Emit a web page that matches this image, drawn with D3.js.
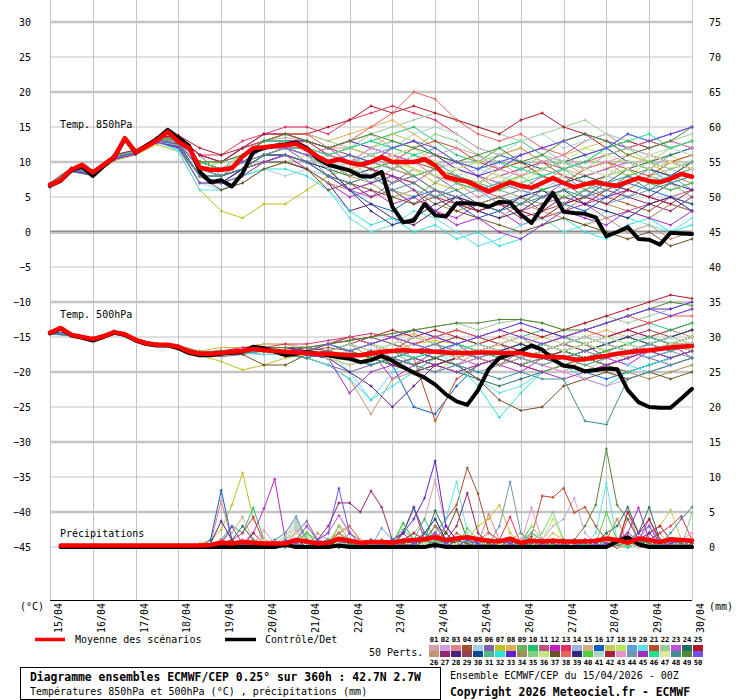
<!DOCTYPE html>
<html><head><meta charset="utf-8">
<script src="https://cdn.jsdelivr.net/npm/d3@7"></script>
<style>
body{margin:0;background:#fff;}
svg{display:block;font-family:"DejaVu Sans Mono",monospace;}
</style></head><body>
<svg id="c" width="740" height="700"></svg>
<script>
// ---------- DATA ----------
const days = ["15/04","16/04","17/04","18/04","19/04","20/04","21/04","22/04","23/04","24/04","25/04","26/04","27/04","28/04","29/04","30/04"];
const leftTicks = [30,25,20,15,10,5,0,-5,-10,-15,-20,-25,-30,-35,-40,-45];
const rightTicks = [75,70,65,60,55,50,45,40,35,30,25,20,15,10,5,0];
const memberColors = ["#d4a0a8","#d0a0e0","#e08088","#a05030","#a0d0e8","#8060b0","#c0c020","#e0b050","#70b060","#20c070","#c05080","#c020c0","#e03060","#a0b0e0","#d0b080","#1060c0","#c8c860","#b8e858","#60a0d8","#60e0e8","#c04828","#a0c898","#c050d8","#207060","#b01828","#c09870","#902870","#502080","#904050","#104890","#50b888","#30e0e0","#6020d0","#a09050","#80d080","#c0e880","#705028","#e86060","#302878","#50d040","#a8d8c8","#a82040","#e890d0","#7098b0","#a030c0","#20e090","#e0e8a0","#409090","#508838","#7050e8"];

// 6-hourly mean / control (0h..360h)
const mean850 = [6.7,7.4,8.9,9.6,8.5,9.6,10.7,13.4,11.4,12.2,13.1,14.3,12.9,12.0,9.2,8.9,8.9,9.1,10.8,12.0,12.1,12.3,12.4,12.6,11.8,10.8,10.0,10.4,9.9,9.6,10.0,10.7,10.0,10.0,10.0,10.4,9.5,7.9,7.5,7.2,6.5,5.8,6.5,7.1,6.6,6.3,7.0,7.7,7.0,6.4,6.8,7.1,6.8,6.6,7.2,7.7,7.3,7.1,7.6,8.3,7.9];
const ctrl850 = [6.6,7.3,8.8,9.4,8.0,9.4,10.6,13.3,11.3,12.3,13.3,14.6,13.5,12.3,8.6,7.1,7.4,6.5,8.4,11.5,12.0,12.3,12.5,12.8,12.0,10.5,9.6,9.2,8.8,8.0,7.9,8.6,3.6,1.4,1.6,4.0,2.4,2.2,4.1,4.1,4.0,3.6,4.3,4.2,2.5,1.3,3.5,5.6,2.9,2.7,2.6,2.1,-0.6,0.0,0.7,-1.0,-1.1,-1.8,-0.1,-0.2,-0.3];
const mean500 = [-14.4,-13.7,-14.7,-15.0,-15.3,-14.9,-14.3,-14.6,-15.4,-15.9,-16.1,-16.1,-16.4,-17.1,-17.4,-17.4,-17.3,-17.1,-17.0,-16.7,-16.9,-17.0,-17.1,-17.2,-17.3,-17.4,-17.4,-17.5,-17.6,-17.6,-17.4,-17.1,-17.0,-16.9,-17.0,-17.0,-17.1,-17.2,-17.3,-17.3,-17.2,-17.2,-17.3,-17.3,-17.3,-17.6,-17.8,-17.9,-17.9,-18.2,-18.2,-17.9,-17.7,-17.4,-17.2,-17.0,-16.9,-16.7,-16.5,-16.4,-16.3];
const ctrl500 = [-14.5,-13.8,-14.8,-15.1,-15.5,-15.0,-14.4,-14.7,-15.5,-16.0,-16.2,-16.2,-16.6,-17.3,-17.6,-17.6,-17.4,-17.2,-17.1,-16.4,-16.6,-17.1,-17.6,-17.4,-17.1,-17.4,-17.6,-17.9,-18.1,-18.6,-18.3,-17.7,-18.4,-19.3,-20.1,-20.8,-21.8,-23.2,-24.2,-24.7,-22.6,-19.6,-18.0,-17.5,-17.0,-16.2,-16.8,-18.2,-19.1,-19.3,-19.9,-19.7,-19.5,-19.6,-22.6,-24.3,-25.0,-25.1,-25.1,-23.8,-22.4];
// 6-hourly precipitation (6h..360h)
const meanPrecip = [0.2,0.2,0.2,0.2,0.2,0.2,0.2,0.2,0.2,0.2, 0.2,0.2,0.2,0.2,0.3,0.6,0.5,0.7,0.6,0.5, 0.5,0.5,1.0,0.8,0.5,0.6,1.2,0.9,0.6,0.7, 0.7,0.6,0.9,1.0,1.1,1.4,1.0,1.2,1.4,1.1, 0.9,0.8,1.2,0.6,0.9,0.8,0.9,0.8,0.8,0.8, 0.9,1.2,1.0,0.6,1.2,1.0,0.7,1.1,1.0,0.9];
const ctrlPrecip = [0,0,0,0,0,0,0,0,0,0, 0,0,0,0,0,0,0,0,0,0, 0,0.3,0,0,0,0,0.2,0,0,0, 0,0,0,0,0,0.3,0,0,0,0, 0,0,0,0,0,0,0,0,0,0, 0,0,0.8,1.4,0.4,0,0,0,0,0];

// 12-hourly members, 850 hPa (0h..360h)
const ens850 = [
[6.6,8.8,8.5,10.6,11.2,13,13.5,11,10,11,13,13.5,13,12,13,14,12,13,11,10,9,10,8,9,10,8,9,11,10,9,10],
[6.8,9,8.2,10.8,11.5,13.2,12.5,9,8,10,12,12,11,9,10,8,11,12,10,8,6,7,9,8,6,7,8,10,9,11,12],
[6.5,8.9,8.6,10.5,11.4,12.9,13,10,10,12,13,14,13,12,12,11,9,10,8,7,5,6,8,9,8,7,6,7,9,8,7],
[6.7,9.1,8.8,10.9,11.6,13.4,13.8,11,8,9,11,12,12,10,8,9,7,8,6,4,3,4,5,3,4,6,5,4,3,5,4],
[6.9,8.7,8.3,10.4,11.3,12.8,12,7,6,7,9,8,9,8,10,11,13,12,10,8,9,8,7,6,8,9,10,8,7,9,8],
[6.4,8.6,8.1,10.6,11.1,13,12.2,8,7,9,11,12,10,9,6,5,7,9,8,6,4,5,6,8,7,5,6,8,7,6,7],
[6.6,8.8,8,10.2,11,12.5,11.5,6,3,2,4,4,6,8,9,10,11,9,7,6,7,9,10,8,7,8,9,11,10,8,9],
[6.8,9,8.4,10.8,11.6,13.3,13.2,10,9,11,13,14,14,13,14,15,16,14,12,10,11,9,8,10,11,9,10,8,9,10,11],
[6.7,8.9,8.5,10.7,11.4,13.1,13,9,9,11,12,12,11,8,7,8,6,5,7,9,8,6,5,4,6,7,5,6,8,7,5],
[6.5,8.7,8.3,10.5,11.2,12.9,12.6,8,8,10,12,13,12,11,12,13,14,15,13,11,10,12,13,11,9,10,12,14,13,12,13],
[7,9.2,8.7,11,11.7,13.5,13.4,10,10,12,13,13,12,10,9,10,9,8,9,7,6,5,3,4,5,4,2,3,4,5,6],
[6.6,8.8,8.2,10.4,11.3,13,12.8,9,8,9,10,11,9,7,5,6,4,5,3,2,4,3,1,2,3,4,5,6,5,4,3],
[6.8,9,8.6,10.9,11.5,13.2,13.6,11,11,13,14,15,15,14,16,17,18,17,16,14,12,11,12,10,9,10,11,12,11,10,9],
[6.7,8.9,8.4,10.7,11.4,13.1,12.5,8,7,9,11,11,10,11,12,13,12,11,10,9,8,10,11,12,10,9,8,7,9,11,12],
[6.6,8.8,8.5,10.6,11.3,13,13.2,10,9,10,12,12,13,11,10,12,11,10,12,10,8,7,6,7,9,8,7,6,8,9,10],
[6.5,8.7,8.1,10.4,11.1,12.8,12,8,7,9,10,11,10,8,6,4,3,5,6,4,2,3,5,6,4,3,5,7,6,5,4],
[6.9,9.1,8.6,10.8,11.6,13.3,13,9,10,12,13,14,13,12,13,12,14,13,11,9,10,11,12,10,11,12,13,11,10,12,13],
[6.7,8.9,8.3,10.6,11.2,12.9,12.3,7,7,8,9,10,11,9,8,10,12,11,9,8,7,6,8,9,10,11,9,8,10,11,9],
[6.4,8.6,8.2,10.5,11.2,13,12.8,9,8,10,12,13,12,10,9,7,8,6,5,7,6,4,5,7,8,6,4,5,7,8,6],
[6.6,8.8,8.4,10.6,11.3,13,11.5,6,6,8,10,10,9,6,2,0,1,3,2,0,-2,-1,1,2,0,1,3,2,1,0,2],
[6.8,9,8.6,10.9,11.6,13.4,13.2,10,9,11,13,13,12,11,12,11,10,12,13,12,10,9,10,8,7,9,10,9,8,10,11],
[6.7,8.9,8.5,10.7,11.5,13.2,13,10,10,11,13,14,14,13,12,14,15,16,17,16,15,14,13,14,15,16,14,13,12,13,14],
[6.5,8.8,8.3,10.5,11.2,12.9,12.6,9,9,11,12,12,11,12,10,9,8,7,9,10,8,7,6,5,7,8,9,10,9,8,10],
[6.6,8.9,8.4,10.6,11.3,13,12.9,9,8,10,11,12,11,9,8,9,10,8,6,5,4,5,4,6,7,8,7,9,10,11,12],
[6.9,9.1,8.7,11,11.7,13.5,13.8,12,11,12,14,14,14,15,16,18,17,18,17,16,15,14,16,17,15,14,12,13,12,13,12],
[6.7,8.9,8.5,10.7,11.4,13.1,12.8,9,8,10,11,12,12,10,8,7,9,8,6,4,3,2,4,3,2,1,2,0,1,-1,0],
[6.6,8.8,8.3,10.6,11.3,13,12.4,8,8,9,11,11,10,8,7,5,6,4,6,5,3,4,2,3,5,4,6,5,4,3,5],
[6.5,8.7,8.2,10.4,11.2,12.9,12.2,8,7,9,10,10,9,7,3,4,2,1,3,5,4,3,5,6,4,5,7,6,5,7,6],
[6.8,9,8.6,10.8,11.5,13.2,13.3,10,9,11,12,13,13,12,11,10,11,10,9,8,7,8,9,10,8,7,8,9,11,10,9],
[6.7,8.9,8.4,10.7,11.4,13.1,13,9,9,11,12,12,12,11,10,11,12,13,11,10,9,11,10,9,10,11,12,10,9,8,10],
[6.6,8.8,8.5,10.6,11.4,13,12.7,9,9,10,12,12,11,10,11,10,9,11,10,8,7,6,7,8,9,7,6,8,9,7,8],
[6.5,8.7,8.2,10.5,11.2,12.8,11.8,7,7,8,9,9,8,6,3,1,2,0,1,-1,0,-2,-1,1,2,0,-1,1,2,0,1],
[6.8,9,8.6,10.8,11.5,13.3,13.4,11,10,12,13,13,13,12,13,12,11,10,11,9,8,9,11,12,13,14,13,12,13,14,15],
[6.7,8.9,8.4,10.7,11.4,13.1,12.6,8,8,9,10,10,9,7,6,7,5,6,4,3,4,5,3,2,3,5,4,3,2,4,3],
[6.9,9.1,8.7,10.9,11.6,13.3,13.1,10,10,11,13,13,12,11,10,12,13,12,14,13,11,10,9,11,10,9,11,12,10,9,10],
[6.6,8.8,8.3,10.6,11.3,13,12.9,9,9,10,12,12,12,11,12,11,10,9,8,9,10,8,7,9,10,12,11,10,9,10,8],
[6.5,8.7,8.2,10.5,11.2,12.9,12.5,8,6,7,9,10,9,6,7,6,5,4,5,3,2,1,0,1,2,1,0,-1,0,-2,-1],
[6.8,9,8.6,10.8,11.6,13.3,13.5,11,10,12,13,14,14,12,13,15,17,20,19,16,14,13,14,12,11,13,14,12,13,12,13],
[6.6,8.8,8.4,10.6,11.3,13,12.6,8,8,9,11,11,10,9,6,3,1,2,4,5,3,2,3,5,6,4,3,2,4,5,3],
[6.7,8.9,8.5,10.7,11.4,13.1,13,10,9,11,12,13,12,10,11,9,10,8,9,7,6,7,8,6,5,6,8,9,7,6,7],
[6.5,8.8,8.3,10.5,11.2,12.9,12.4,8,8,10,12,12,11,9,10,11,12,14,15,14,12,11,13,14,12,13,14,12,11,12,11],
[6.9,9.1,8.7,11,11.7,13.4,13.4,11,10,12,14,14,13,11,10,9,8,7,5,4,3,4,3,2,4,5,4,6,5,4,6],
[6.7,8.9,8.5,10.7,11.5,13.2,13,9,9,11,12,13,12,11,10,12,11,10,11,12,11,9,8,10,11,9,10,11,12,13,12],
[6.6,8.8,8.4,10.6,11.3,13,12.7,9,8,10,11,12,12,10,9,8,7,8,6,5,6,7,6,5,4,6,7,5,6,8,9],
[6.5,8.7,8.2,10.4,11.1,12.8,12.1,7,7,8,10,11,10,8,6,7,8,6,3,1,2,0,-1,1,3,2,1,3,2,1,3],
[6.8,9,8.6,10.8,11.6,13.4,13.3,10,9,11,13,13,12,11,12,13,12,11,12,10,9,10,9,8,9,10,12,13,14,12,13],
[6.7,8.9,8.4,10.7,11.4,13.1,12.8,9,9,11,12,12,11,10,9,10,11,12,10,9,7,8,6,7,8,9,8,9,11,10,9],
[6.6,8.8,8.3,10.6,11.3,13,12.5,8,8,9,11,11,10,8,7,8,6,7,5,6,4,3,4,5,6,5,7,8,6,7,8],
[6.7,8.9,8.5,10.7,11.4,13.1,13.2,10,10,11,13,14,13,12,13,14,13,12,11,10,11,12,10,11,13,14,13,11,12,13,15],
[6.6,8.8,8.4,10.6,11.3,13,12.8,9,9,10,12,12,11,10,11,10,12,13,12,10,9,10,11,12,13,11,12,14,13,14,15]
];

// 12-hourly members, 500 hPa (0h..360h)
const ens500 = [
[-14.3,-14.6,-15.2,-14.2,-15.3,-16,-16.2,-17,-17,-16.5,-16,-16,-16.5,-17,-16,-17,-18,-17,-16,-17,-18,-17,-16,-17,-18,-17,-16,-15,-16,-15,-14],
[-14.5,-14.8,-15.4,-14.4,-15.5,-16.2,-16.5,-17.5,-17.5,-17,-17,-17.5,-18,-17,-18,-19,-18,-17,-18,-16,-17,-18,-19,-18,-17,-16,-17,-18,-16,-15,-16],
[-14.4,-14.7,-15.3,-14.3,-15.4,-16.1,-16.4,-17.2,-17,-16.8,-16.5,-17,-17,-16,-15,-16,-15,-17,-18,-19,-17,-16,-18,-19,-20,-18,-17,-16,-15,-14,-15],
[-14.2,-14.5,-15.1,-14.2,-15.2,-16,-16.3,-17.3,-17.2,-17,-17,-17,-17.5,-18,-17,-16,-17,-15,-16,-17,-18,-19,-17,-16,-15,-16,-17,-16,-15,-14,-13],
[-14.6,-14.9,-15.4,-14.5,-15.6,-16.3,-16.6,-17.8,-17.5,-17.2,-17.5,-17,-16.5,-17,-18,-17,-16,-18,-19,-18,-17,-16,-17,-18,-19,-20,-18,-17,-18,-17,-16],
[-14.4,-14.7,-15.3,-14.3,-15.4,-16.1,-16.5,-17.5,-17.8,-17.5,-17,-17.5,-18,-19,-20,-19,-18,-17,-16,-18,-17,-16,-15,-17,-18,-17,-16,-17,-18,-19,-18],
[-14.3,-14.6,-15.2,-14.3,-15.3,-16,-16.4,-17.6,-18.5,-19.7,-19,-18,-17.5,-17,-17.5,-18,-17,-16,-15.5,-16,-17,-18,-17,-16,-17,-18,-19,-18,-17,-16,-15],
[-14.4,-14.7,-15.3,-14.3,-15.4,-16.1,-16.3,-17,-16.5,-16.5,-16,-16,-17,-16,-17,-16,-15,-14.5,-16,-17,-16,-15,-16,-17,-16,-15,-14,-15,-16,-15,-14],
[-14.5,-14.8,-15.4,-14.4,-15.5,-16.2,-16.6,-17.5,-17.2,-17.3,-17.5,-17.5,-18,-17,-16,-18,-19,-20,-18,-17,-16,-17,-18,-19,-18,-17,-16,-17,-18,-17,-16],
[-14.3,-14.6,-15.2,-14.2,-15.3,-16,-16.3,-17.2,-17,-16.8,-16.5,-16.5,-17,-16,-15,-16,-15,-14,-15,-14,-15,-16,-15,-14,-15,-16,-15,-14,-13,-14,-13],
[-14.4,-14.7,-15.3,-14.3,-15.4,-16.1,-16.4,-17.4,-17.3,-17,-17,-17,-17.5,-18,-19,-18,-17,-16,-17,-18,-19,-18,-17,-18,-19,-20,-19,-18,-17,-18,-17],
[-14.4,-14.7,-15.3,-14.3,-15.4,-16.1,-16.4,-17.3,-17.2,-17.2,-17,-17,-17.5,-17,-18,-17,-21,-19,-17,-16,-18,-19,-20,-18,-17,-16,-18,-19,-17,-16,-18],
[-14.3,-14.6,-15.2,-14.2,-15.3,-16,-16.3,-17.2,-17,-16.5,-16.5,-16,-16,-15.5,-15,-14.5,-15,-16,-15,-14,-15,-16,-17,-16,-15,-14,-15,-14,-13,-12,-11],
[-14.5,-14.8,-15.4,-14.4,-15.5,-16.2,-16.5,-17.5,-17.4,-17.2,-17,-17.5,-17,-18,-17,-16,-17,-18,-17,-18,-17,-16,-17,-16,-17,-18,-17,-16,-17,-16,-15],
[-14.4,-14.7,-15.3,-14.3,-15.4,-16.1,-16.4,-17.4,-17.3,-17,-17,-17.5,-18,-17,-16,-17,-18,-19,-20,-18,-17,-18,-19,-17,-16,-17,-18,-17,-16,-17,-16],
[-14.4,-14.7,-15.3,-14.3,-15.4,-16.1,-16.4,-17.4,-17.3,-17,-17,-17.5,-17.5,-18,-17,-18,-19,-25,-26,-22,-19,-18,-17,-18,-19,-20,-21,-20,-19,-18,-17],
[-14.3,-14.6,-15.2,-14.2,-15.3,-16,-16.3,-17.2,-17,-16.8,-17,-17,-16.5,-17,-16,-17,-16,-15,-16,-15,-16,-17,-16,-15,-16,-17,-16,-15,-16,-15,-14],
[-14.5,-14.8,-15.4,-14.4,-15.5,-16.2,-16.6,-17.7,-17.6,-17.3,-17,-17.5,-18,-17,-18,-17,-16,-17,-18,-17,-16,-17,-18,-19,-18,-17,-16,-17,-16,-15,-16],
[-14.4,-14.7,-15.3,-14.3,-15.4,-16.1,-16.4,-17.4,-17.3,-17,-16.8,-17,-17.2,-17.5,-18,-19,-18,-17,-18,-19,-20,-19,-18,-17,-18,-19,-18,-17,-18,-17,-16],
[-14.4,-14.7,-15.3,-14.3,-15.4,-16.1,-16.4,-17.5,-17.3,-17.2,-17.5,-17.5,-18,-17,-20,-24,-20,-18,-17,-19,-21,-23,-22,-20,-19,-18,-17,-19,-20,-19,-18],
[-14.3,-14.6,-15.2,-14.2,-15.3,-16,-16.4,-17.3,-17.1,-16.9,-17,-17,-17,-16.5,-17,-16,-17,-18,-27,-21,-19,-18,-19,-20,-19,-18,-17,-18,-17,-16,-16],
[-14.4,-14.7,-15.3,-14.3,-15.4,-16.1,-16.4,-17.3,-17.2,-17,-16.8,-16.5,-16.5,-16,-15.5,-15,-14.5,-14,-13.5,-13,-14,-13,-12.5,-13,-14,-13,-12,-13,-12,-11,-10],
[-14.5,-14.8,-15.4,-14.4,-15.5,-16.2,-16.5,-17.5,-17.4,-17.2,-17,-17.5,-17,-16,-17,-18,-17,-16,-15,-16,-17,-16,-15,-16,-17,-16,-15,-14,-15,-16,-15],
[-14.4,-14.7,-15.3,-14.3,-15.4,-16.1,-16.4,-17.4,-17.3,-17.1,-17,-17,-17.5,-18,-17,-16,-17,-18,-19,-20,-21,-22,-21,-20,-19,-18,-19,-20,-19,-18,-17],
[-14.3,-14.6,-15.2,-14.2,-15.3,-16,-16.3,-17.2,-17,-16.8,-16.5,-16.5,-17,-16,-15.5,-15,-14,-15,-14,-15,-16,-15,-14,-15,-14,-13,-12,-11,-10,-9,-9.5],
[-14.4,-14.7,-15.3,-14.3,-15.4,-16.1,-16.4,-17.4,-17.5,-17.3,-17,-17.5,-18,-19,-21,-26,-21,-20,-18,-17,-18,-19,-18,-17,-18,-19,-20,-21,-20,-19,-18],
[-14.5,-14.8,-15.4,-14.4,-15.5,-16.2,-16.5,-17.5,-17.3,-17,-17,-17.5,-18,-17,-18,-17,-18,-19,-18,-17,-18,-17,-16,-17,-16,-15,-16,-17,-16,-17,-16],
[-14.4,-14.7,-15.3,-14.3,-15.4,-16.1,-16.4,-17.4,-17.3,-17,-17,-17.5,-17,-18,-20,-22,-25,-22,-19,-18,-17,-18,-19,-18,-17,-18,-19,-18,-17,-16,-17],
[-14.3,-14.6,-15.2,-14.2,-15.3,-16,-16.3,-17.2,-17,-16.8,-17,-17,-16.5,-17,-16,-15,-16,-17,-16,-15,-16,-17,-18,-17,-16,-17,-16,-15,-14,-15,-14],
[-14.4,-14.7,-15.3,-14.3,-15.4,-16.1,-16.4,-17.4,-17.3,-17.1,-17,-17,-17.5,-17,-18,-19,-18,-17,-18,-19,-18,-17,-16,-17,-18,-17,-16,-15,-16,-15,-14],
[-14.4,-14.7,-15.3,-14.3,-15.4,-16.1,-16.4,-17.4,-17.2,-17,-17,-17,-17,-18,-17,-18,-17,-19,-18,-17,-16,-17,-18,-17,-18,-19,-18,-17,-16,-17,-16],
[-14.5,-14.8,-15.4,-14.4,-15.5,-16.2,-16.6,-17.7,-17.5,-17.2,-17,-17.5,-18,-19,-21,-24,-22,-20,-18,-19,-22,-26.5,-23,-20,-19,-21,-22,-20,-19,-18,-17],
[-14.3,-14.6,-15.2,-14.2,-15.3,-16,-16.3,-17.2,-17,-16.8,-16.5,-16.5,-17,-16,-15,-16,-15,-14,-15,-16,-15,-14,-13,-14,-15,-14,-13,-12,-11,-11,-10],
[-14.4,-14.7,-15.3,-14.3,-15.4,-16.1,-16.4,-17.4,-17.3,-17.2,-17,-17.5,-17.5,-18,-17,-18,-19,-18,-19,-20,-19,-18,-19,-20,-19,-18,-19,-20,-21,-20,-19],
[-14.4,-14.7,-15.3,-14.3,-15.4,-16.1,-16.4,-17.3,-17.1,-17,-16.8,-17,-17,-16,-17,-16,-17,-16,-17,-18,-17,-16,-17,-16,-17,-16,-17,-16,-15,-16,-15],
[-14.5,-14.8,-15.4,-14.4,-15.5,-16.2,-16.5,-17.6,-17.4,-17.2,-17,-17.5,-17,-18,-19,-18,-17,-18,-17,-16,-17,-18,-17,-16,-17,-16,-17,-18,-17,-16,-17],
[-14.4,-14.7,-15.3,-14.3,-15.4,-16.1,-16.4,-17.4,-17.5,-17.5,-19,-19,-17.5,-17,-18,-17,-18,-19,-18,-19,-21,-24,-25.5,-25,-22,-21,-20,-21,-20,-21,-20],
[-14.3,-14.6,-15.2,-14.2,-15.3,-16,-16.3,-17.2,-17,-16.8,-16.5,-16.5,-16.5,-16,-15,-16,-15,-16,-15,-14,-15,-14,-15,-16,-15,-14,-13,-12,-13,-12,-12],
[-14.4,-14.7,-15.3,-14.3,-15.4,-16.1,-16.5,-17.5,-17.4,-17.2,-17,-17,-17.5,-18,-17,-18,-19,-20,-19,-18,-17,-18,-17,-16,-17,-18,-17,-16,-17,-16,-15],
[-14.5,-14.8,-15.4,-14.4,-15.5,-16.2,-16.5,-17.5,-17.3,-17.1,-17,-17.5,-17,-16,-17,-18,-19,-18,-17,-16,-17,-18,-19,-18,-17,-18,-17,-16,-17,-18,-17],
[-14.4,-14.7,-15.3,-14.3,-15.4,-16.1,-16.4,-17.3,-17.2,-17,-17,-17,-17,-17,-16,-17,-16,-15,-16,-17,-16,-17,-18,-17,-16,-15,-16,-17,-16,-15,-16],
[-14.3,-14.6,-15.2,-14.2,-15.3,-16,-16.4,-17.4,-17.2,-17,-17,-17,-17.5,-17,-18,-17,-19,-20,-19,-18,-17,-16,-17,-18,-17,-16,-15,-14,-15,-16,-15],
[-14.4,-14.7,-15.3,-14.3,-15.4,-16.1,-16.4,-17.4,-17.3,-17,-17,-17.5,-17,-18,-17,-16,-18,-19,-20,-19,-18,-17,-18,-19,-20,-21,-22,-21,-20,-19,-18],
[-14.5,-14.8,-15.4,-14.4,-15.5,-16.2,-16.5,-17.5,-17.4,-17.2,-17,-17.5,-18,-17,-18,-19,-18,-17,-16,-17,-18,-17,-18,-19,-18,-17,-18,-17,-16,-17,-18],
[-14.4,-14.7,-15.3,-14.3,-15.4,-16.1,-16.4,-17.4,-17.3,-17.1,-17,-17,-17.5,-18,-23,-20,-19,-18,-19,-20,-19,-18,-19,-20,-21,-20,-19,-18,-17,-18,-17],
[-14.3,-14.6,-15.2,-14.2,-15.3,-16,-16.3,-17.2,-17,-16.8,-16.5,-17,-17,-16,-17,-16,-17,-18,-17,-16,-17,-18,-17,-16,-17,-16,-15,-16,-15,-16,-15],
[-14.4,-14.7,-15.3,-14.3,-15.4,-16.1,-16.5,-17.5,-17.4,-17.2,-17,-17.5,-17,-18,-17,-16,-17,-16,-17,-18,-17,-16,-15,-16,-17,-16,-15,-16,-17,-16,-15],
[-14.5,-14.8,-15.4,-14.4,-15.5,-16.2,-16.5,-17.5,-17.4,-17.3,-17,-17.5,-18,-17,-18,-19,-18,-19,-20,-19,-20,-21,-20,-21,-21,-27,-27.5,-21,-20,-19,-18],
[-14.4,-14.7,-15.3,-14.3,-15.4,-16.1,-16.3,-17.2,-17,-16.8,-16.5,-16.5,-16.5,-16,-15.5,-15,-14.5,-14,-13.5,-13,-13,-12.5,-12.5,-13,-14,-14,-13,-12,-11,-10,-10.5],
[-14.4,-14.7,-15.3,-14.3,-15.4,-16.1,-16.4,-17.4,-17.3,-17,-17,-17,-17,-16,-17,-16,-15,-16,-17,-16,-15,-14,-15,-16,-15,-14,-13,-12,-11,-12,-11]
];

// 6-hourly members, precipitation mm (6h..360h)
const ensPrecip = [
[0,0,0,0,0,0,0,0,0,0, 0,0,0,0.5,0,1,0,0.5,1,0, 0,1,3,1,0,0.5,2,1,0,0.5, 1,0,0.5,2,4,9.6,3,1,0.5,0, 0,1,0.5,0,1,0,0.5,1,0,0, 0.5,1,0,0,0.5,1,0,0.5,0,1],
[0,0,0,0,0,0,0,0,0,0, 0,0,0,0,0,0.5,1,0,0,0.5, 1,0,2.5,0.5,0,0,1,0,0.5,1, 0,0.5,1,0,0.5,2,1,0,0.5,0, 1,0,0.5,1,2,1,3,4,7,2, 0.5,0,1,0,0.5,0,1,0,0.5,0],
[0,0,0,0,0,0,0,0,0,0, 0,0,0,0,0.5,6.6,1,0,0.5,0, 0,0.5,0,1,0,0,0.5,1,0,0, 0.5,1,2,5.7,1,0,0.5,0,1,0.5, 4.7,1,0,0.5,0,1,0,0.5,0,0, 1,0,0.5,5,1,3,0.5,0,1,0],
[0,0,0,0,0,0,0,0,0,0, 0,0,0,0,0,0.5,0,0,0,0, 0.5,0,1,0,0.5,0,1,0,0,0.5, 0,1,0,0.5,1,2,4,6,11.3,7.6, 2,1,0,0.5,0,1,0,0.5,0,0, 0,0.5,0,1,0,0,0.5,0,1,0],
[0,0,0,0,0,0,0,0,0,0, 0,0,0,0,0,0,0.5,0,0,0, 0,0.5,1,0,0,1,0.5,0,1,0, 0,0.5,1,0,0.5,3,1,0.5,0,1, 0,0.5,1,2,1,0,0.5,1,0,0.5, 0,1,0,0.5,0,1,0,0.5,0,0],
[0,0,0,0,0,0,0,0,0,0, 0,0,0,0,0,1,0.5,0,0,1, 0.5,1,2,3.7,1,0,0.5,2,1,0, 0.5,1,0,0.5,1,2,1,0.5,0,1, 0.5,0,1,0,0.5,1,0,0.5,0,1, 0,0.5,0,1,0.5,0,1,0,0.5,0],
[0,0,0,0,0,0,0,0,0,0, 0,0,0,0.5,1,2.5,6,10.6,4,1, 0,0.5,1,0,0,0.5,1,0,0,0.5, 0,1,0,0.5,0,1,2,0.5,1,3, 4,6,2,0.5,0,1,0,0.5,1,0, 0.5,0,1,0,0.5,0,1,0,0.5,0],
[0,0,0,0,0,0,0,0,0,0, 0,0,0,0,0,0.5,0,0,0.5,0, 0,0,0.5,1,0.5,0,3,2,1,0, 1,0.5,0,1,0.5,2,1,0,0.5,0, 1,0.5,0,1,0,0.5,2,1,0,0.5, 0,1,4,0.5,0,1,2,0,0.5,0],
[0,0,0,0,0,0,0,0,0,0, 0,0,0,0,0,0,0.5,0,0,0, 0.5,0,1,2,0.5,0,1,0,0,0.5, 0,0.5,3.4,1,0,0.5,1,0,0.5,1, 0,0.5,1,0,1,0.5,0,1,0,0, 0.5,2,0,0.5,0,1,0,0.5,1,0],
[0,0,0,0,0,0,0,0,0,0, 0,0,0,0,0,1,3,2,5.6,1, 0,0.5,1,0,0.5,0,1,0.5,0,0, 0.5,0,1,0.5,2,1,0,0.5,1,0, 0.5,1,0,0.5,3,1,0,0.5,0,1, 0,0.5,1,0,0.5,0,0,1,0.5,0],
[0,0,0,0,0,0,0,0,0,0, 0,0,0,0,0,0.5,0,1,0,0.5, 1,0,0.5,0,1,0.5,0,1,0,0.5, 0,1,0,0.5,1,3,2,0.5,0,1, 0,0.5,1,0,0.5,1,0,0.5,0,0, 1,0,0.5,2,1,4,0.5,0,1,0.5],
[0,0,0,0,0,0,0,0,0,0, 0,0,0,0,0,0.5,0,0.5,2,5.5, 9.7,1,0.5,0,1,0,0.5,0,1,0, 0.5,0,1,0,0.5,1,0,0.5,1,0, 0,1,0.5,0,1,0,0.5,1,0,0, 0.5,0,1,0,0.5,1,0,0,0.5,0],
[0,0,0,0,0,0,0,0,0,0, 0,0,0,0,0,0.5,1,2,4.3,0.5, 0,0.5,0,1,0,0.5,1,0,0.5,0, 1,0.5,2,5.7,1,0,0.5,1,0,0.5, 0,1,4.3,0.5,0,1,0,0.5,0,0, 0.5,0,1,0.5,0,1,2,3,4.4,1],
[0,0,0,0,0,0,0,0,0,0, 0,0,0,0,0,0,0.5,0,0,0.5, 1,2,4,1,0.5,0,1,0.5,0,1, 0.5,1,0,0.5,2,4,1,0,0.5,0, 1,0.5,0,1,0.5,0,1,0,0.5,0, 0,1,0.5,0,1,0,0.5,0,1,0],
[0,0,0,0,0,0,0,0,0,0, 0,0,0,0,0.5,1,2,4.3,1,0.5, 0,1,0.5,0,1,0.5,2,1,0,0.5, 0,1,0.5,0,1,2,1,0.5,0,1, 0.5,0,1,2,1,0,0.5,1,0,0.5, 1,0,0.5,0,1,0.5,0,1,0,0.5],
[0,0,0,0,0,0,0,0,0,0, 0,0,0,0,1,8.1,1,0,0.5,0, 0,0.5,0,1,0,0.5,1,0,0.5,0, 0.5,0,2,5.6,2,1,0.5,0,1,0, 0,0.5,1,0,0.5,1,0,0.5,0,0, 0.5,0,1,0.5,0,1,0,0.5,0,1],
[0,0,0,0,0,0,0,0,0,0, 0,0,0,0,0,0,0.5,0,0.5,0, 0.5,0,2,1,0,0.5,3,1,0.5,0, 0,0.5,1,0,0.5,1,0,0.5,1,0, 0,0.5,0,1,0.5,0,1,0.5,0,0, 0.5,1,0,0.5,1,2,3,5.3,1,0.5],
[0,0,0,0,0,0,0,0,0,0, 0,0,0,0,0,0.5,0,1,0,0.5, 0,1,3,1.5,0.5,0,2,3,1,0, 0.5,0,1,0.5,0,1,2,0.5,0,1, 0.5,0,1,0,0.5,1,4,1,0,0.5, 0,1,0.5,0,1,0,0.5,0,1,0],
[0,0,0,0,0,0,0,0,0,0, 0,0,0,0,0,0.5,0,0,1,0, 0.5,0,1,0.5,0,1,0,0.5,1,0, 2.7,1,0,0.5,1,2,1,0,0.5,0, 1,0,0.5,1,0,0.5,1,0,0.5,0, 1,0.5,0,1,0,0.5,0,1,0,0.5],
[0,0,0,0,0,0,0,0,0,0, 0,0,0,0,0,0,0.5,0,0,0.5, 0,1,0.5,0,1,0,0.5,1,0,0, 0.5,1,0,0.5,1,2,4,9.3,2,0.5, 0,1,0.5,0,1,0.5,0,1,0,0.5, 2,9.1,1,0,0.5,0,1,0.5,0,0],
[0,0,0,0,0,0,0,0,0,0, 0,0,0,0,0,0.5,1,0,0.5,0, 0,0.5,1,0,0.5,1,0,0.5,1,0, 0.5,0,1,0,0.5,1,0.5,2,1,0, 0.5,1,0,0.5,1.5,7.3,7.1,8.4,4.9,5.7, 3,1,0,0.5,1,0,0.5,1,0,0.5],
[0,0,0,0,0,0,0,0,0,0, 0,0,0,0,0,0,0,0.5,0,1, 0.5,1.5,3.5,1,0,0.5,2,1,0,0.5, 1,0,0.5,1,2,1,0.5,0,1,0.5, 0,0.5,1,0,2,1,0.5,0,1,0, 0.5,0,1,0,0.5,1,0,0.5,0,1],
[0,0,0,0,0,0,0,0,0,0, 0,0,0,0,0,1,0.5,0,0.5,0, 0,0.5,1,0,1,2,4.5,2,0.5,0, 0.5,0,1,0.5,0,1,3,1,0,0.5, 1,0,0.5,1,0,0.5,1,0,0.5,0, 1,0.5,0,1,2,0.5,0,1,0,0.5],
[0,0,0,0,0,0,0,0,0,0, 0,0,0,0,0,0.5,1,3,1,0, 0.5,0,1,0.5,0,1,0,0.5,1,0, 0,1,0.5,0,1,5.2,2,0.5,0,1, 0.5,0,1,0.5,0,1,0.5,0,1,0, 0.5,2,3,5.7,2,5.7,1,0.5,0,1],
[0,0,0,0,0,0,0,0,0,0, 0,0,0,0,0,0.5,0,0.5,1,0, 0,0.5,0,1,0.5,0,1,0.5,0,0.5, 1,0,0.5,1,0,0.5,1,0,0.5,0, 1,0.5,0,1,0.5,0,1,0,0.5,0, 1,0,0.5,1,0,2,3,1,0.5,0],
[0,0,0,0,0,0,0,0,0,0, 0,0,0,0,0,0.5,0,1,0.5,0, 0.5,0,1,0,2,1,0,0.5,1,0, 0.5,0,1,0.5,1,2,0.5,0,1,0, 0.5,1,0,0.5,1,0,0.5,0,1,0.5, 0,1,4,0.5,0,1,0,0.5,0,1],
[0,0,0,0,0,0,0,0,0,0, 0,0,0,0,0,0,0.5,0,0,1, 0.5,0,1,0.5,1,3,6.3,6.3,5,8, 5.7,1,2,0.5,1,0,1,3,7.7,2, 0.5,0,1,0,0.5,1,0,0.5,0,1, 0,0.5,1,0,0.5,0,1,0,0.5,0],
[0,0,0,0,0,0,0,0,0,0, 0,0,0,0,0.5,3.7,1,0,0.5,0, 0,0.5,1,0,0.5,1,0,0.5,0,1, 0,0.5,1,0,0.5,1,0,0.5,1,0, 0.5,0,1,0.5,0,1,0,0.5,0,1, 0,0.5,1,0,0.5,1,0,0.5,0,0],
[0,0,0,0,0,0,0,0,0,0, 0,0,0,0,0,0,0.5,0,1,0, 0,1,0.5,0,1,0,0.5,1,0,0.5, 0,1,0.5,0,1,3,1,0.5,0,1, 0.5,1,0,0.5,1,0,0.5,1,0,0.5, 0,1,0,0.5,1,0,0.5,0,1,0],
[0,0,0,0,0,0,0,0,0,0, 0,0,0,0,0,0.5,0,0.5,0,0, 0.5,0,1,0.5,0,1,0,0.5,1,0, 0.5,1,0,0.5,1,0,0.5,1,0,0.5, 0,0.5,1,0,0.5,1,0,0.5,0,1, 0.5,0,1,0.5,0,1,0,0.5,1,0],
[0,0,0,0,0,0,0,0,0,0, 0,0,0,0,0,0.5,1,0,0.5,0, 0,0.5,1,2,0.5,0,1,0.5,0,0.5, 0,1,2.5,1,4,1,0.5,0,1,0, 0.5,1,0,0.5,2,1,0,0.5,1,0, 0.5,0,1,0,0.5,1,0,0.5,0,1],
[0,0,0,0,0,0,0,0,0,0, 0,0,0,0,0,0,0.5,0,0,0.5, 0,0.5,1,0.5,0,1,0,0.5,0,0, 0.5,0,1,0,0.5,1,0.5,0,1,0, 0,0.5,0,1,0.5,0,0.5,1,0,0.5, 1,0,0.5,0,1,0,0.5,1,0,0],
[0,0,0,0,0,0,0,0,0,0, 0,0,0,0,0,0.5,0,0.5,0,0, 0.5,0,1,0,0.5,1,0,0.5,0,1, 0,1,2,4,7,12.3,3,1,0.5,0, 1,0.5,0,1,0,0.5,1,0,0.5,0, 0.5,1,0,0.5,1,2,0.5,0,1,0],
[0,0,0,0,0,0,0,0,0,0, 0,0,0,0,0,0,0.5,1,0,0, 0.5,0,1,0.5,0,1,2,0.5,0,1, 0.5,0,1,0.5,1,3,1,0.5,0,1, 0,0.5,1,0,0.5,1,0,0.5,0,1, 0.5,0,1,0.5,0,1,0,0.5,0,1],
[0,0,0,0,0,0,0,0,0,0, 0,0,0,0.5,0,0.5,1,0,0.5,0, 1,0,0.5,1,0,0.5,3,1,0,0.5, 1,0.5,0,1,0.5,2,1,0,0.5,1, 0,0.5,1,0.5,1,2,5,1,0.5,0, 0.5,1,0,0.5,1,0,0.5,1,0,4.9],
[0,0,0,0,0,0,0,0,0,0, 0,0,0,0,0,0.5,0,0.5,0,1, 0.5,1,0,0.5,1,0,0.5,1,0,0.5, 0,1,0.5,0,1,0.5,0,1,0.5,0, 1,0.5,0,1,3,1,0.5,0,1,0.5, 0,1,0.5,0,1,0.5,0,1,0.5,0],
[0,0,0,0,0,0,0,0,0,0, 0,0,0,0,0,0.5,0,0,0.5,0, 0,0.5,0,1,0.5,0,1,0.5,0,0, 0.5,0,1,0,0.5,1,2,5.4,1,0.5, 0,1,0.5,0,1,0,0.5,0,1,0, 0.5,1,0,0.5,0,1,0,0.5,0,0.5],
[0,0,0,0,0,0,0,0,0,0, 0,0,0,0,0,1,0.5,0,1,0.5, 0,1,0.5,0,1,0.5,2,3,1,0, 0.5,1,0,0.5,1,2,1,0.5,0,1, 2,1,0,0.5,1,0.5,0,1,0.5,0, 0.5,1,0,4,1,0.5,0,1,0.5,0],
[0,0,0,0,0,0,0,0,0,0, 0,0,0,0,0,0.5,0,0,0.5,0, 0.5,0,1,0,0.5,0,1,0.5,0,0.5, 0,0.5,1,0,2,4,1,0.5,0,1, 0.5,0,1,0.5,0,1,0,0.5,0,0.5, 0,0.5,0,1,0.5,0,1,0,0.5,0],
[0,0,0,0,0,0,0,0,0,0, 0,0,0,0,0.5,0,0.5,1,0,0.5, 0,1,0.5,2,1,0,0.5,1,0,0.5, 1,0.5,3.4,1,0,0.5,1,0,2.7,1, 0,0.5,1,0,0.5,1,0,0.5,1,0, 0.5,5,1,0,0.5,1,0,0.5,0,1],
[0,0,0,0,0,0,0,0,0,0, 0,0,0,0,0,0,0.5,0,0.5,0, 0.5,1,3,1,0,0.5,1,0,0.5,0, 0,0.5,1,0,0.5,1,0.5,0,1,0, 0.5,0,1,0.5,0,1,0,0.5,0,1, 0,0.5,1,0,0.5,0,1,0,0.5,0],
[0,0,0,0,0,0,0,0,0,0, 0,0,0,0,0,0.5,1,0,2,0.5, 0,0.5,1,0,0.5,1,0,0.5,1,0, 0.5,0,1,2,1,0.5,0,1,0.5,0, 1,0,0.5,1,0,0.5,1,0,0.5,0, 1,0.5,0,5,2,4,1,0,0.5,0],
[0,0,0,0,0,0,0,0,0,0, 0,0,0,0,0,0.5,0,1,0.5,2.4, 0.5,0,1,0.5,0,1,0.5,0,1,0, 0.5,0,1,0.5,1,2,1,0,0.5,1, 0.5,1,0,0.5,5.6,1,0,0.5,1,0, 0.5,0,1,0.5,0,1,0.5,0,1,2],
[0,0,0,0,0,0,0,0,0,0, 0,0,0,0,0,0,0.5,0,0.5,0, 1,2,4.4,1,0.5,0,1,0.5,0,0.5, 0,1,0.5,0,1,0.5,0,0.5,1,0, 0.5,3,9.3,2,0.5,0,1,0.5,0,0.5, 1,0,0.5,1,0,0.5,1,0,0.5,0],
[0,0,0,0,0,0,0,0,0,0, 0,0,0,0,0,0.5,2.9,0.5,0,0.5, 0,0.5,1,3,1,0,0.5,1,0,0.5, 0,1,0.5,0,1,0.5,0,1,0.5,0, 0.5,0,1,0.5,0,1,0,0.5,0,1, 0,0.5,1,2,5.6,1,0,0.5,1,0],
[0,0,0,0,0,0,0,0,0,0, 0,0,0,0,0,0.5,0,0.5,1,0, 0.5,0,1,0,0.5,1,0,0.5,0,1, 0.5,0,1,0.5,0,1,0.5,0,1,0, 0.5,1,0,0.5,1,0,0.5,1,0,0.5, 0,1,0.5,0,1,0,0.5,0,1,0],
[0,0,0,0,0,0,0,0,0,0, 0,0,0,0,0,0,0.5,0,0.5,1, 0,1,2,0.5,0,1,0.5,0,1,0.5, 0,0.5,1,0,0.5,1,0,0.5,1,0, 1,0.5,0,1,0.5,0,1,0,0.5,0, 0.5,1,0,0.5,0,1,0.5,0,1,0],
[0,0,0,0,0,0,0,0,0,0, 0,0,0,0,0,0.5,0,0.5,0,0, 0.5,0,1,0.5,0,1,0,0.5,0,1, 0.5,0,1,0.5,2,1,0.5,0,1,0, 0.5,0,1,0,0.5,1,0,0.5,0,1, 0.5,0,1,0.5,1,0,0.5,2,4,5.7],
[0,0,0,0,0,0,0,0,0,0, 0,0,0,0,0,0.5,0,0,0.5,0, 0,0.5,1,0,0.5,0,1,0.5,0,0.5, 0,1,0.5,0,1,0.5,0,1,0.5,0, 0.5,0,1,0.5,0,1,0.5,0,1,3, 6,14,6,4,1,0.5,0,1,0.5,0],
[0,0,0,0,0,0,0,0,0,0, 0,0,0,0,0,0.5,0,0.5,0,0.5, 0,1,0.5,0,1,2,8.4,2,0.5,0, 0.5,1,0,0.5,1,2,0.5,0,1,0.5, 0,1,0.5,0,1,0.5,0,1,0.5,0, 0.5,0,1,0.5,2,3,0.5,0,1,0]
];

// ---------- CHART ----------
const svg = d3.select("#c");
const FONT = "'DejaVu Sans Mono', monospace";
const x = d3.scaleLinear().domain([0, 360]).range([50, 692]);
const yT = d3.scaleLinear().domain([-45, 30]).range([547, 22]);
const yP = d3.scaleLinear().domain([0, 75]).range([547, 22]);
const dayHours = days.map((d, i) => i * 24);
const h6 = d3.range(0, 361, 6);
const h12 = d3.range(0, 361, 12);
const hP = d3.range(6, 361, 6);

// grid
const grid = svg.append("g");
grid.selectAll("line.v").data(dayHours).join("line").attr("class", "v")
  .attr("x1", d => Math.round(x(d)) + 0.5).attr("x2", d => Math.round(x(d)) + 0.5)
  .attr("y1", 0).attr("y2", 600).attr("stroke", "#c4c4c4").attr("stroke-width", 1);
grid.selectAll("line.h").data(leftTicks.filter(d => d !== 0)).join("line").attr("class", "h")
  .attr("x1", 50).attr("x2", 692)
  .attr("y1", d => yT(d)).attr("y2", d => yT(d))
  .attr("stroke", "#c4c4c4").attr("stroke-width", d => d % 10 === 0 ? 2.4 : 1.2);
grid.append("line").attr("x1", 50).attr("x2", 692).attr("y1", yT(0) - 0.5).attr("y2", yT(0) - 0.5)
  .attr("stroke", "#8c8c8c").attr("stroke-width", 2);
grid.append("line").attr("x1", 50).attr("x2", 692).attr("y1", yT(0) + 1.5).attr("y2", yT(0) + 1.5)
  .attr("stroke", "#c4c4c4").attr("stroke-width", 1);

// axes
function styleAxis(g) {
  g.attr("font-family", FONT).attr("font-size", 10);
  g.selectAll("text").attr("fill", "#000");
}
const axL = svg.append("g").attr("transform", "translate(50,0)")
  .call(d3.axisLeft(yT).tickValues(leftTicks).tickSize(0).tickPadding(19).tickFormat(d3.format("d")));
axL.select(".domain").remove(); styleAxis(axL);
const axR = svg.append("g").attr("transform", "translate(692,0)")
  .call(d3.axisRight(yP).tickValues(rightTicks).tickSize(0).tickPadding(17).tickFormat(d3.format("d")));
axR.select(".domain").remove(); styleAxis(axR);
const axB = svg.append("g").attr("transform", "translate(0,600)")
  .call(d3.axisBottom(x).tickValues(dayHours).tickSize(0).tickSizeOuter(0).tickFormat((d, i) => days[i]));
styleAxis(axB);
axB.attr("text-anchor", null);
axB.select(".domain").attr("stroke", "#000").attr("d", "M50,0.5H692");
axB.selectAll("text")
  .attr("x", 0).attr("y", 0).attr("dy", null)
  .style("text-anchor", "end")
  .attr("transform", "translate(11.5,3) rotate(-90)");

// series
const marker = "M-1.5,0H1.5M0,-1.5V1.5";
function series(g, vals, hours, ys, color, w, withMarks) {
  const line = d3.line().x((d, i) => x(hours[i])).y(d => ys(d));
  g.append("path").attr("d", line(vals)).attr("fill", "none").attr("stroke", color)
    .attr("stroke-width", w).attr("stroke-linejoin", "round").attr("stroke-linecap", "round");
  if (withMarks) {
    g.append("g").selectAll("path").data(vals).join("path")
      .attr("transform", (d, i) => `translate(${x(hours[i])},${ys(d)})`)
      .attr("d", marker).attr("stroke", color).attr("stroke-width", 1).attr("fill", "none");
  }
}
const gm = svg.append("g");
ens850.forEach((m, k) => series(gm, m, h12, yT, memberColors[k], 1, true));
ens500.forEach((m, k) => series(gm, m, h12, yT, memberColors[k], 1, true));
ensPrecip.forEach((m, k) => series(gm, m, hP, yP, memberColors[k], 1, true));
const gc = svg.append("g");
series(gc, ctrl850, h6, yT, "#000", 4, false);
series(gc, ctrl500, h6, yT, "#000", 4, false);
series(gc, ctrlPrecip, hP, yP, "#000", 4, false);
series(gc, mean850, h6, yT, "#ff0000", 4.5, false);
series(gc, mean500, h6, yT, "#ff0000", 4.5, false);
series(gc, meanPrecip, hP, yP, "#ff0000", 4.5, false);

// panel labels
function txt(t, xx, yy, size, bold, anchor) {
  return svg.append("text").attr("x", xx).attr("y", yy).attr("font-family", FONT)
    .attr("font-size", size).attr("font-weight", bold ? "bold" : "normal")
    .attr("text-anchor", anchor || "start").attr("fill", "#000").text(t);
}
txt("Temp. 850hPa", 60, 128, 10);
txt("Temp. 500hPa", 60, 318, 10);
txt("Précipitations", 60, 537, 10);
txt("(°C)", 20, 610, 10);
txt("(mm)", 709, 610, 10);

// legend
svg.append("line").attr("x1", 35).attr("x2", 65).attr("y1", 639.5).attr("y2", 639.5).attr("stroke", "#ff0000").attr("stroke-width", 3.5);
txt("Moyenne des scénarios", 75, 643, 10);
svg.append("line").attr("x1", 225).attr("x2", 256).attr("y1", 639.5).attr("y2", 639.5).attr("stroke", "#000").attr("stroke-width", 3.5);
txt("Contrôle/Det", 265, 643, 10);
txt("50 Perts.", 369, 656, 10);
const fmt2 = d3.format("02d");
memberColors.forEach((c, k) => {
  const col = k % 25, row = Math.floor(k / 25);
  const sx = 429 + col * 11;
  svg.append("rect").attr("x", sx).attr("y", 645 + row * 6).attr("width", 10).attr("height", 6).attr("fill", c);
  svg.append("text").attr("x", sx + 5).attr("y", row === 0 ? 642 : 665)
    .attr("font-family", FONT).attr("font-size", 7.2).attr("font-weight", "bold")
    .attr("text-anchor", "middle").attr("fill", "#000").text(fmt2(k + 1));
});

// title box
svg.append("rect").attr("x", 20.5).attr("y", 667.5).attr("width", 420).attr("height", 32)
  .attr("fill", "none").attr("stroke", "#000").attr("stroke-width", 1);
txt("Diagramme ensembles ECMWF/CEP 0.25° sur 360h : 42.7N 2.7W", 30, 681, 11.4, true);
txt("Températures 850hPa et 500hPa (°C) , précipitations (mm)", 30, 695, 10);
txt("Ensemble ECMWF/CEP du 15/04/2026 - 00Z", 450, 679, 10);
txt("Copyright 2026 Meteociel.fr - ECMWF", 450, 696, 11.4, true);
</script>
</body></html>
